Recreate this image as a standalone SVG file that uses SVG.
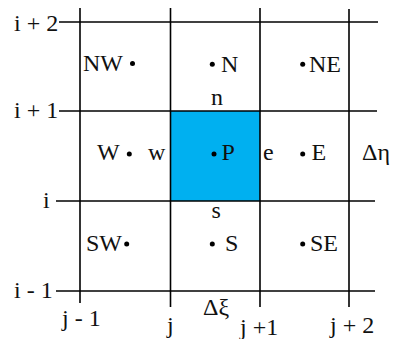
<svg xmlns="http://www.w3.org/2000/svg" width="393" height="339" viewBox="0 0 393 339">
<style>
text{font-family:'Liberation Serif','DejaVu Serif','Times New Roman',serif;font-size:24px;fill:#111}
.g{stroke:#000;stroke-width:1.6;fill:none}
.d{fill:#000}
</style>
<rect width="393" height="339" fill="#fff"/>
<g id="cellP"><rect x="170.5" y="111" width="89.5" height="90" fill="#00B0F0"/></g>
<g id="grid">
<line class="g" x1="59" y1="22" x2="378" y2="22"/>
<line class="g" x1="59" y1="111" x2="377" y2="111"/>
<line class="g" x1="56" y1="201" x2="375" y2="201"/>
<line class="g" x1="56" y1="291" x2="375" y2="291"/>
<line class="g" x1="80" y1="8" x2="80" y2="303"/>
<line class="g" x1="170.5" y1="8" x2="170.5" y2="307"/>
<line class="g" x1="260" y1="8" x2="260" y2="307"/>
<line class="g" x1="349" y1="9" x2="349" y2="307"/>
</g>
<g id="axes">
<text x="14" y="31">i + 2</text>
<text x="14" y="118">i + 1</text>
<text x="43" y="208">i</text>
<text x="14" y="298">i - 1</text>
<text x="62" y="326">j - 1</text>
<text x="167" y="333">j</text>
<text x="240" y="335">j +1</text>
<text x="330" y="333">j + 2</text>
<text x="203" y="315">Δξ</text>
<text x="362" y="160">Δη</text>
</g>
<g id="NW"><text x="83" y="71">NW</text><circle class="d" cx="132.5" cy="63.5" r="2.5"/></g>
<g id="N"><circle class="d" cx="212.3" cy="64.3" r="2.5"/><text x="221" y="72">N</text></g>
<g id="NE"><circle class="d" cx="302.7" cy="64.3" r="2.5"/><text x="309" y="72">NE</text></g>
<g id="n"><text x="211" y="105">n</text></g>
<g id="W"><text x="97" y="160">W</text><circle class="d" cx="129.3" cy="154" r="2.5"/></g>
<g id="w"><text x="148" y="160">w</text></g>
<g id="P"><circle class="d" cx="214" cy="154" r="2.5"/><text x="221.5" y="160">P</text></g>
<g id="e"><text x="263" y="160">e</text></g>
<g id="E"><circle class="d" cx="302.7" cy="154" r="2.5"/><text x="311.5" y="160">E</text></g>
<g id="s"><text x="211.5" y="218">s</text></g>
<g id="SW"><text x="86" y="251">SW</text><circle class="d" cx="126.7" cy="244" r="2.5"/></g>
<g id="S"><circle class="d" cx="212.3" cy="244" r="2.5"/><text x="225" y="251">S</text></g>
<g id="SE"><circle class="d" cx="302.7" cy="244" r="2.5"/><text x="310" y="251">SE</text></g>
</svg>
